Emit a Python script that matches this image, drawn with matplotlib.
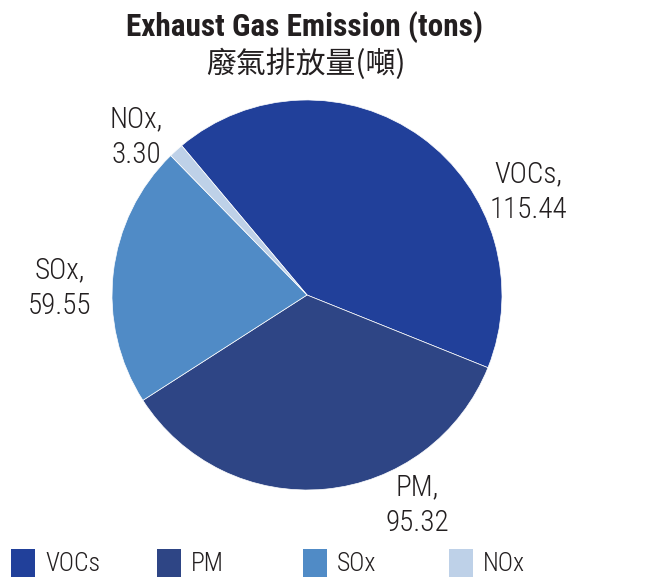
import matplotlib
matplotlib.use('Agg')
import matplotlib.pyplot as plt
from matplotlib import font_manager
from matplotlib.patches import Rectangle

# data
categories = ['VOCs', 'PM', 'SOx', 'NOx']
values = [115.44, 95.32, 59.55, 3.30]
colors = ['#21409A', '#2E4585', '#508BC6', '#BED1E8']

# pick a narrow font if one is installed
names = {f.name for f in font_manager.fontManager.ttflist}
narrow = None
for cand in ['Roboto Condensed', 'Liberation Sans Narrow', 'Open Sans Condensed', 'Roboto']:
    if cand in names:
        narrow = cand
        break
plt.rcParams['font.family'] = [narrow, 'Noto Sans CJK TC', 'DejaVu Sans']

W, H = 660, 577
fig = plt.figure(figsize=(W / 100, H / 100), dpi=100)

# pie axes: centre (307, 295) px, radius 195 px
cx, cy, r = 307, 295, 195
ax = fig.add_axes([(cx - r) / W, (H - cy - r) / H, 2 * r / W, 2 * r / H])
ax.pie(values, colors=colors, startangle=130, counterclock=False, radius=1,
       wedgeprops=dict(edgecolor='white', linewidth=0.5))
ax.set_xlim(-1, 1)
ax.set_ylim(-1, 1)
ax.set_aspect('equal')
ax.axis('off')

txt = '#231F20'

# slice labels (pixel positions of label centres)
label_pos = {'VOCs': (528, 192), 'PM': (417, 505), 'SOx': (60, 288), 'NOx': (136, 137)}
for cat, val in zip(categories, values):
    px, py = label_pos[cat]
    fig.text(px / W, 1 - py / H, f'{cat},\n{val:.2f}', ha='center', va='center',
             fontsize=21, fontweight='light', color=txt, linespacing=1.38)

# title
fig.text(305 / W, 1 - 27 / H, 'Exhaust Gas Emission (tons)', ha='center', va='center',
         fontsize=22.5, fontweight='bold', color=txt)
fig.text(306 / W, 1 - 64 / H, '廢氣排放量(噸)', ha='center', va='center',
         fontsize=21.5, color=txt, family=['Noto Sans CJK TC', 'DejaVu Sans'])

# legend along the bottom
for i, (cat, col) in enumerate(zip(categories, colors)):
    x0 = 11 + i * 146
    fig.patches.append(Rectangle((x0 / W, 0), 24 / W, 28 / H, transform=fig.transFigure,
                                 facecolor=col, edgecolor='none'))
    fig.text((x0 + 34) / W, 1 / H, cat, ha='left', va='bottom',
             fontsize=18.5, fontweight='light', color=txt)

fig.savefig('out.png', dpi=100)
